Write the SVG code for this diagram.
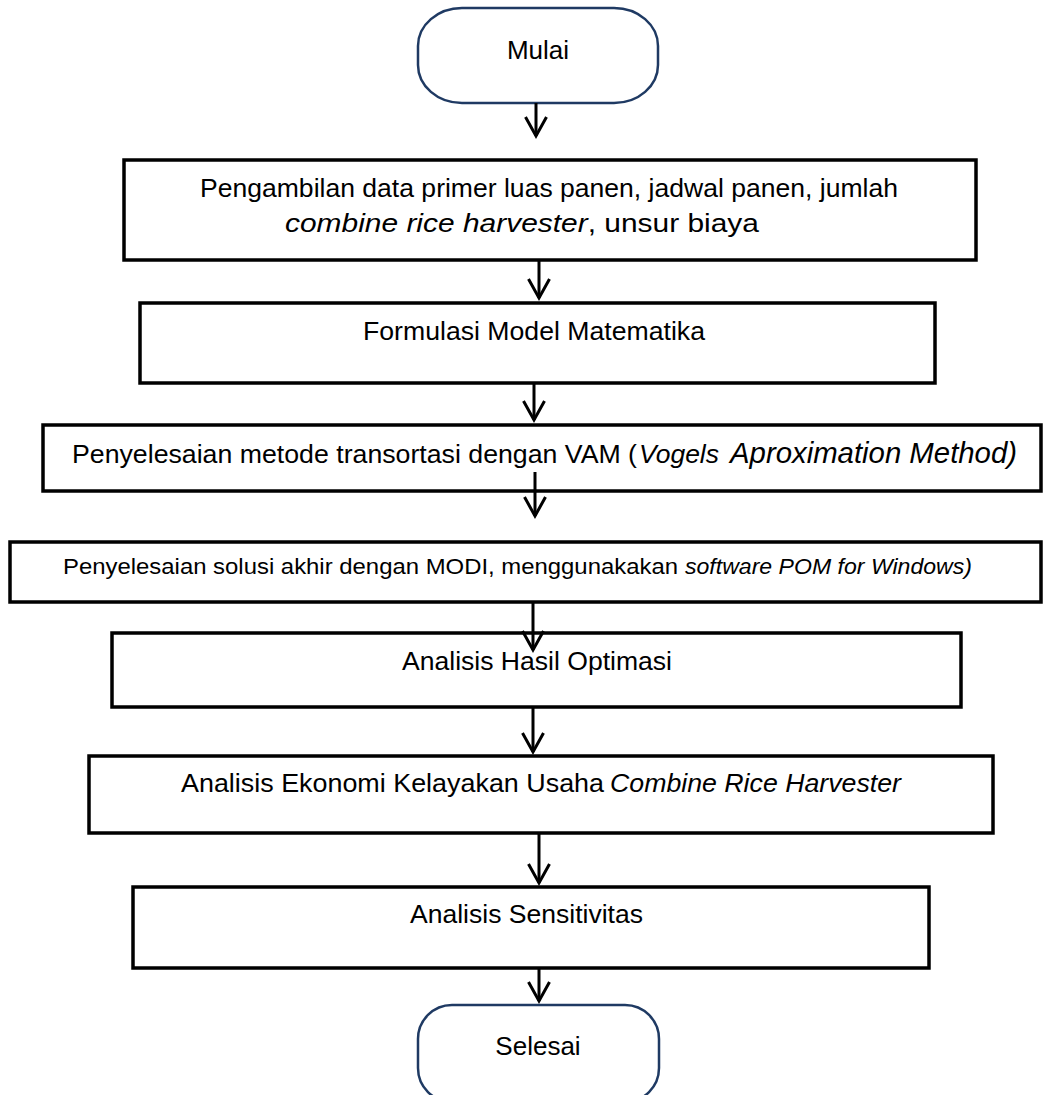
<svg xmlns="http://www.w3.org/2000/svg" width="1043" height="1095" viewBox="0 0 1043 1095">
<style>
.term{fill:#fff;stroke:#1f3a63;stroke-width:2.5}
.box{fill:#fff;stroke:#000;stroke-width:3.5}
.t{font-family:"Liberation Sans",Arial,sans-serif;fill:#000}
.tt{font-size:26px}
.b{font-size:26px}
.s{font-size:22px}
.i{font-style:italic}
.con{stroke:#000;stroke-width:3;fill:none}
</style>
<defs>
<marker id="arr" markerUnits="userSpaceOnUse" markerWidth="40" markerHeight="40" refX="0" refY="0" orient="auto" overflow="visible">
<path d="M-19,-10.5 L0,0 L-19,10.5" fill="none" stroke="#000" stroke-width="3" stroke-linejoin="miter"/>
</marker>
</defs>
<rect width="1043" height="1095" fill="#fff"/>
<g id="mulai">
<rect class="term" x="418" y="8" width="240" height="95" rx="44" ry="38"/>
<text class="t tt" x="538" y="59" text-anchor="middle">Mulai</text>
</g>
<g id="pengambilan">
<rect class="box" x="124" y="160" width="852" height="100"/>
<text class="t b" x="200" y="197" textLength="698" lengthAdjust="spacingAndGlyphs">Pengambilan data primer luas panen, jadwal panen, jumlah</text>
<text class="t b" x="285" y="232" textLength="474" lengthAdjust="spacingAndGlyphs"><tspan class="i">combine rice harvester</tspan>, unsur biaya</text>
</g>
<g id="formulasi">
<rect class="box" x="140" y="303" width="795" height="80"/>
<text class="t b" x="363" y="340" textLength="342" lengthAdjust="spacingAndGlyphs">Formulasi Model Matematika</text>
</g>
<g id="vam">
<rect class="box" x="43" y="425" width="998" height="66"/>
<text class="t b" x="72" y="463"><tspan x="72" textLength="565" lengthAdjust="spacingAndGlyphs">Penyelesaian metode transortasi dengan VAM (</tspan><tspan class="i" x="639" font-size="25" textLength="80" lengthAdjust="spacingAndGlyphs">Vogels</tspan><tspan class="i" x="730" font-size="29" textLength="287" lengthAdjust="spacingAndGlyphs">Aproximation Method)</tspan></text>
</g>
<g id="modi">
<rect class="box" x="10" y="542" width="1031" height="60"/>
<text class="t s" x="63" y="574"><tspan x="63" textLength="615" lengthAdjust="spacingAndGlyphs">Penyelesaian solusi akhir dengan MODI, menggunakakan</tspan><tspan class="i" x="685" textLength="287" lengthAdjust="spacingAndGlyphs">software POM for Windows)</tspan></text>
</g>
<g id="hasil">
<rect class="box" x="112" y="633" width="849" height="74"/>
<text class="t b" x="402" y="670" textLength="270" lengthAdjust="spacingAndGlyphs">Analisis Hasil Optimasi</text>
</g>
<g id="ekonomi">
<rect class="box" x="89" y="756" width="904" height="77"/>
<text class="t b" x="181" y="792"><tspan x="181" textLength="423" lengthAdjust="spacingAndGlyphs">Analisis Ekonomi Kelayakan Usaha</tspan><tspan class="i" x="610" textLength="291" lengthAdjust="spacingAndGlyphs">Combine Rice Harvester</tspan></text>
</g>
<g id="sensitivitas">
<rect class="box" x="133" y="887" width="796" height="81"/>
<text class="t b" x="410" y="923" textLength="233" lengthAdjust="spacingAndGlyphs">Analisis Sensitivitas</text>
</g>
<g id="selesai">
<rect class="term" x="418" y="1005" width="241" height="97" rx="34" ry="34"/>
<text class="t tt" x="538" y="1055" text-anchor="middle">Selesai</text>
</g>
<g id="connectors">
<line class="con" x1="536" y1="103" x2="536" y2="136" marker-end="url(#arr)"/>
<line class="con" x1="539" y1="260" x2="539" y2="298" marker-end="url(#arr)"/>
<line class="con" x1="534" y1="383" x2="534" y2="420" marker-end="url(#arr)"/>
<line class="con" x1="535" y1="472" x2="535" y2="516" marker-end="url(#arr)"/>
<line class="con" x1="533" y1="602" x2="533" y2="650" marker-end="url(#arr)"/>
<line class="con" x1="533" y1="707" x2="533" y2="752" marker-end="url(#arr)"/>
<line class="con" x1="539" y1="833" x2="539" y2="883" marker-end="url(#arr)"/>
<line class="con" x1="539" y1="968" x2="539" y2="1001" marker-end="url(#arr)"/>
</g>
</svg>
